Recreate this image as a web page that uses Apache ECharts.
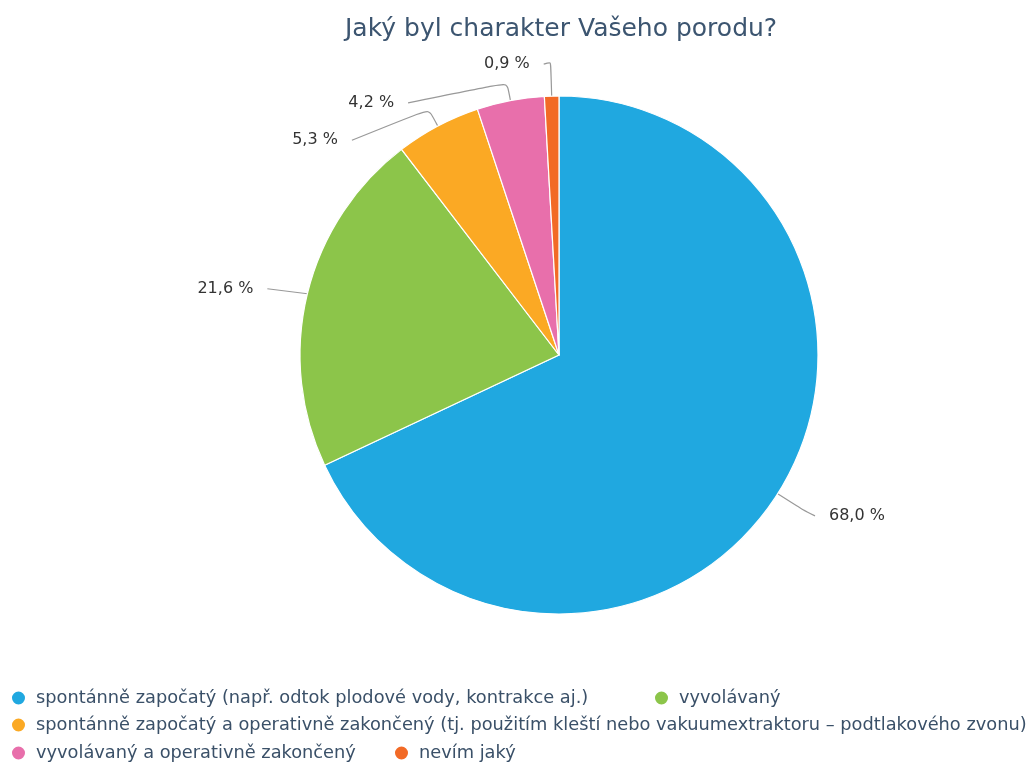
<!DOCTYPE html>
<html>
<head>
<meta charset="utf-8">
<script src="https://cdn.jsdelivr.net/npm/echarts@6/dist/echarts.min.js"></script>
<style>html,body{margin:0;padding:0;background:#fff}#c{width:1035px;height:770px}</style>
</head>
<body>
<div id="c"></div>
<script>
const categories = [
  'spontánně započatý (např. odtok plodové vody, kontrakce aj.)',
  'vyvolávaný',
  'spontánně započatý a operativně zakončený (tj. použitím kleští nebo vakuumextraktoru – podtlakového zvonu)',
  'vyvolávaný a operativně zakončený',
  'nevím jaký'
];
const values = [68.0, 21.6, 5.3, 4.2, 0.9];
const colors = ['#20a8e0', '#8cc54a', '#fba924', '#e86fab', '#f26a26'];

const lineLen = [30, 0, 19, 18, 34];
const lineLen2 = [12, 40, 77, 99, 7];
const labelDy = [6, -5, 31, 20, 2];

const FONT = 'DejaVu Sans';
const chart = echarts.init(document.getElementById('c'));

function legendAt(i, left, top) {
  return {
    data: [categories[i]],
    left: left, top: top,
    orient: 'horizontal',
    padding: 0,
    icon: 'circle',
    itemWidth: 15, itemHeight: 15,
    itemGap: 0,
    selectedMode: false,
    textStyle: { fontFamily: FONT, fontSize: 17.8, color: '#3a5068', lineHeight: 22, padding: [0, 0, 0, 5] }
  };
}

chart.setOption({
  animation: false,
  color: colors,
  title: {
    text: 'Jaký byl charakter Vašeho porodu?',
    left: 345, top: 17, padding: 0,
    textStyle: { fontFamily: FONT, fontSize: 25, fontWeight: 'normal', color: '#3c5570' }
  },
  legend: [
    legendAt(0, 10, 687),
    legendAt(1, 653, 687),
    legendAt(2, 10, 714),
    legendAt(3, 10, 742),
    legendAt(4, 393, 742)
  ],
  series: [{
    type: 'pie',
    center: [559, 355],
    radius: 259,
    startAngle: 90,
    clockwise: true,
    avoidLabelOverlap: false,
    itemStyle: { borderColor: '#ffffff', borderWidth: 1.2 },
    label: {
      show: true,
      formatter: function (p) { return p.value.toFixed(1).replace('.', ',') + ' %'; },
      fontFamily: FONT, fontSize: 16, color: '#333333',
      distanceToLabelLine: 14
    },
    labelLine: { show: true, smooth: 0.2, lineStyle: { color: '#999999', width: 1.2 } },
    labelLayout: function (p) {
      const dy = labelDy[p.dataIndex];
      if (!dy) return {};
      const pts = p.labelLinePoints;
      return { dy: dy, labelLinePoints: [pts[0], pts[1], [pts[2][0], pts[2][1] + dy]] };
    },
    emphasis: { disabled: true },
    data: categories.map(function (c, i) {
      return {
        name: c, value: values[i],
        labelLine: { length: lineLen[i], length2: lineLen2[i] }
      };
    })
  }]
});
</script>
</body>
</html>
